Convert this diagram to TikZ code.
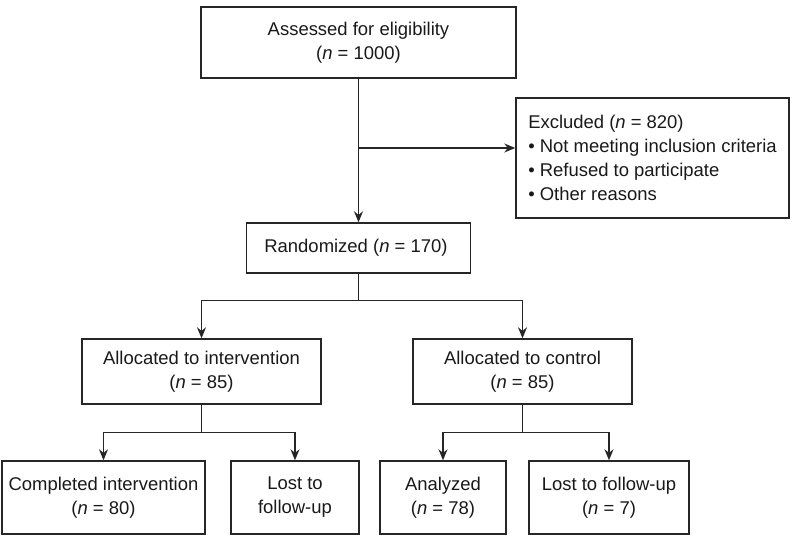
\documentclass[tikz,border=0pt]{standalone}
\usepackage{fontspec}
\setmainfont{Liberation Sans}
\usetikzlibrary{positioning,arrows.meta}

\begin{document}
\begin{tikzpicture}[
        font=\fontsize{10.5}{13.6}\selectfont,
        box/.style={rectangle, draw=black!85, line width=0.8pt, inner sep=2pt, align=center, text=black!90},
        arrow/.style={-{Stealth[length=2.2mm, width=1.8mm]}, draw=black!85, line width=0.8pt},
        link/.style={draw=black!85, line width=0.8pt}
    ]
        \useasboundingbox (0,0) rectangle (15.88,-10.8);

        % Screening
        \node[box, minimum width=6.3cm, minimum height=1.42cm] (assessed) at (7.17,-0.85) {
            Assessed for eligibility \\
            (\textit{n} = 1000)
        };

        % Excluded
        \node[box, align=left, minimum width=5.46cm, minimum height=2.4cm] (excluded) at (13.05,-3.16) {
            Excluded (\textit{n} = 820) \\
            \textbullet\ Not meeting inclusion criteria \\
            \textbullet\ Refused to participate \\
            \textbullet\ Other reasons
        };

        % Randomization
        \node[box, minimum width=4.48cm, minimum height=1.0cm] (randomized) at (7.17,-4.96) {
            Randomized (\textit{n} = 170)
        };

        % Allocation
        \node[box, minimum width=4.78cm, minimum height=1.3cm] (intervention) at (4.03,-7.43) {
            Allocated to intervention \\
            (\textit{n} = 85)
        };
        \node[box, minimum width=4.38cm, minimum height=1.3cm] (control) at (10.45,-7.43) {
            Allocated to control \\
            (\textit{n} = 85)
        };

        % Follow-up
        \node[box, minimum width=4.06cm, minimum height=1.46cm] (completed) at (2.07,-9.95) {
            Completed intervention \\
            (\textit{n} = 80)
        };
        \node[box, minimum width=2.56cm, minimum height=1.46cm] (lostint) at (5.9,-9.95) {
            Lost to \\
            follow-up
        };
        \node[box, minimum width=2.52cm, minimum height=1.46cm] (analyzed) at (8.86,-9.95) {
            Analyzed \\
            (\textit{n} = 78)
        };
        \node[box, minimum width=3.2cm, minimum height=1.46cm] (lostctrl) at (12.18,-9.95) {
            Lost to follow-up \\
            (\textit{n} = 7)
        };

        % Arrows
        \coordinate (exsplit) at (7.17,-2.96);
        \draw[arrow] (assessed) -- (randomized);
        \draw[arrow] (exsplit) -- (exsplit -| excluded.west);

        \draw[link] (randomized.south) -- ++(0,-0.54) coordinate (rsplit);
        \draw[arrow] (rsplit) -| (intervention.north);
        \draw[arrow] (rsplit) -| (control.north);

        \draw[link] (intervention.south) -- ++(0,-0.56) coordinate (isplit);
        \draw[arrow] (isplit) -| (completed.north);
        \draw[arrow] (isplit) -| (lostint.north);

        \draw[link] (control.south) -- ++(0,-0.56) coordinate (csplit);
        \draw[arrow] (csplit) -| (analyzed.north);
        \draw[arrow] (csplit) -| (lostctrl.north);
    \end{tikzpicture}
\end{document}
